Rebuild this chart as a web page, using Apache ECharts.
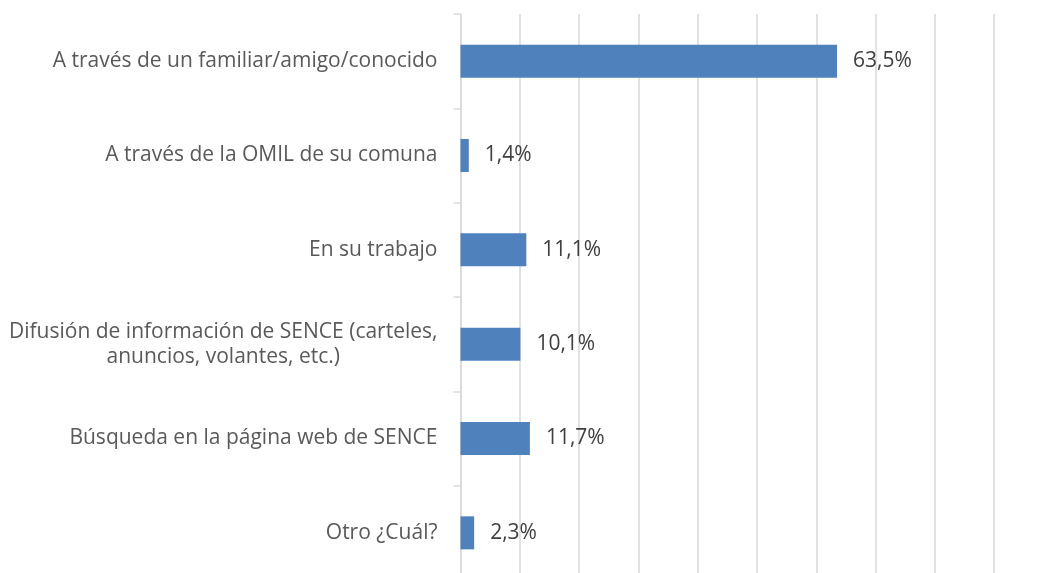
<!DOCTYPE html>
<html>
<head>
<meta charset="utf-8">
<script src="https://cdn.jsdelivr.net/npm/echarts@6/dist/echarts.min.js"></script>
<style>
html,body{margin:0;padding:0;background:#fff;overflow:hidden;}
#chart{width:1070px;height:590px;}
</style>
</head>
<body>
<div id="chart"></div>
<script>
const categories = [
  "A través de un familiar/amigo/conocido",
  "A través de la OMIL de su comuna",
  "En su trabajo",
  "Difusión de información de SENCE (carteles,\nanuncios, volantes, etc.)",
  "Búsqueda en la página web de SENCE",
  "Otro ¿Cuál?"
];
const values = [63.5, 1.4, 11.1, 10.1, 11.7, 2.3];

const FONT = "Open Sans";
const chart = echarts.init(document.getElementById('chart'), null, {renderer: 'canvas'});
chart.setOption({
  animation: false,
  backgroundColor: '#ffffff',
  grid: {left: 460.5, top: 14, width: 593, height: 566, containLabel: false},
  xAxis: {
    type: 'value', min: 0, max: 100, interval: 10,
    axisLabel: {show: false},
    axisLine: {show: false},
    axisTick: {show: false},
    splitLine: {show: true, lineStyle: {color: '#d9d9d9', width: 1.5}}
  },
  yAxis: {
    type: 'category', data: categories, inverse: true,
    axisLine: {show: true, lineStyle: {color: '#d9d9d9', width: 1.5}},
    axisTick: {show: true, length: 7, lineStyle: {color: '#d9d9d9', width: 1.5}},
    axisLabel: {
      margin: 23, color: '#595959', fontFamily: FONT, fontSize: 21,
      formatter: function (v) {
        return v.split('\n').map(function (l) { return '{c|' + l + '}'; }).join('\n');
      },
      rich: {c: {align: 'center', color: '#595959', fontFamily: FONT, fontSize: 21, lineHeight: 25}}
    }
  },
  series: [{
    type: 'bar', data: values, barWidth: 33,
    itemStyle: {color: '#4f81bd'},
    label: {
      show: true, position: 'right', distance: 16,
      color: '#404040', fontFamily: FONT, fontSize: 21,
      formatter: function (p) { return p.value.toFixed(1).replace('.', ',') + '%'; }
    }
  }]
});
</script>
</body>
</html>
